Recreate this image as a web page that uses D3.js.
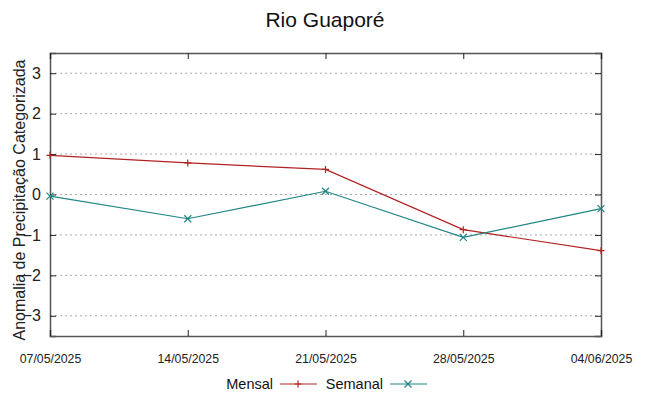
<!DOCTYPE html>
<html><head><meta charset="utf-8">
<script src="https://cdn.jsdelivr.net/npm/d3@7"></script>
<style>body{margin:0;background:#fff}svg{display:block}</style>
</head><body>
<svg id="c" width="649" height="396"></svg>
<script>
const dates = ["07/05/2025","14/05/2025","21/05/2025","28/05/2025","04/06/2025"];
const mensal = [0.97, 0.78, 0.62, -0.87, -1.39];
const semanal = [-0.04, -0.60, 0.08, -1.06, -0.35];
const yTicks = [-3,-2,-1,0,1,2,3];
const title = "Rio Guaporé";
const yLabel = "Anomalia de Precipitação Categorizada";
const seriesNames = ["Mensal","Semanal"];

const svg = d3.select("#c");
const L=50, R=601, T=53, B=336;
const x = d3.scalePoint().domain(dates).range([L,R]);
const y = d3.scaleLinear().domain([-3.5,3.5]).range([B,T]);
const red = "#b22222", teal = "#1f8585";
const FF = "Liberation Sans, Arial, sans-serif";

// grid
svg.append("g").selectAll("line").data(yTicks).join("line")
  .attr("x1",L).attr("x2",R).attr("y1",d=>y(d)).attr("y2",d=>y(d))
  .attr("stroke","#aaa").attr("stroke-width",1).attr("stroke-dasharray","2,3");

// axes
const gl = svg.append("g").attr("transform",`translate(${L},0)`)
  .call(d3.axisLeft(y).tickValues(yTicks).tickSize(-6).tickPadding(9).tickFormat(d3.format("d")));
const gr = svg.append("g").attr("transform",`translate(${R},0)`)
  .call(d3.axisRight(y).tickValues(yTicks).tickSize(-6).tickFormat(""));
const gb = svg.append("g").attr("transform",`translate(0,${B})`)
  .call(d3.axisBottom(x).tickSize(-6).tickPadding(18));
const gt = svg.append("g").attr("transform",`translate(0,${T})`)
  .call(d3.axisTop(x).tickSize(-6).tickFormat(""));
[gl,gr,gb,gt].forEach(g=>{
  g.select(".domain").attr("stroke","#555").attr("stroke-width",1.5);
  g.selectAll(".tick line").attr("stroke","#222");
});
gl.selectAll("text").attr("font-family",FF).attr("font-size",16).attr("fill","#222");
gb.selectAll("text").attr("font-family",FF).attr("font-size",12.3).attr("fill","#222");

// lines
const line = d3.line().x((d,i)=>x(dates[i])).y(d=>y(d));
svg.append("path").datum(mensal).attr("d",line).attr("fill","none").attr("stroke",red).attr("stroke-width",1.2);
svg.append("path").datum(semanal).attr("d",line).attr("fill","none").attr("stroke",teal).attr("stroke-width",1.2);

const s=3.5;
function plus(g,cx,cy,c){g.append("path").attr("d",`M${cx-s},${cy}H${cx+s}M${cx},${cy-s}V${cy+s}`).attr("stroke",c).attr("stroke-width",1.2);}
function cross(g,cx,cy,c){g.append("path").attr("d",`M${cx-s},${cy-s}L${cx+s},${cy+s}M${cx-s},${cy+s}L${cx+s},${cy-s}`).attr("stroke",c).attr("stroke-width",1.2);}
const mk = svg.append("g");
mensal.forEach((v,i)=>plus(mk,x(dates[i]),y(v),red));
semanal.forEach((v,i)=>cross(mk,x(dates[i]),y(v),teal));

// title
svg.append("text").attr("x",325).attr("y",27).attr("text-anchor","middle")
  .attr("font-family",FF).attr("font-size",21).attr("fill","#111").text(title);
// y label
svg.append("text").attr("transform",`translate(25,200) rotate(-90)`).attr("text-anchor","middle")
  .attr("font-family",FF).attr("font-size",16).attr("fill","#222").text(yLabel);

// legend
const lg = svg.append("g").attr("font-family",FF).attr("font-size",14.5).attr("fill","#111");
const ly=384;
lg.append("text").attr("x",273).attr("y",ly+4.5).attr("text-anchor","end").text(seriesNames[0]);
lg.append("line").attr("x1",280).attr("x2",317).attr("y1",ly).attr("y2",ly).attr("stroke",red).attr("stroke-width",1.2);
plus(lg,298,ly,red);
lg.append("text").attr("x",383).attr("y",ly+4.5).attr("text-anchor","end").text(seriesNames[1]);
lg.append("line").attr("x1",390).attr("x2",427).attr("y1",ly).attr("y2",ly).attr("stroke",teal).attr("stroke-width",1.2);
cross(lg,408,ly,teal);
</script>
</body></html>
